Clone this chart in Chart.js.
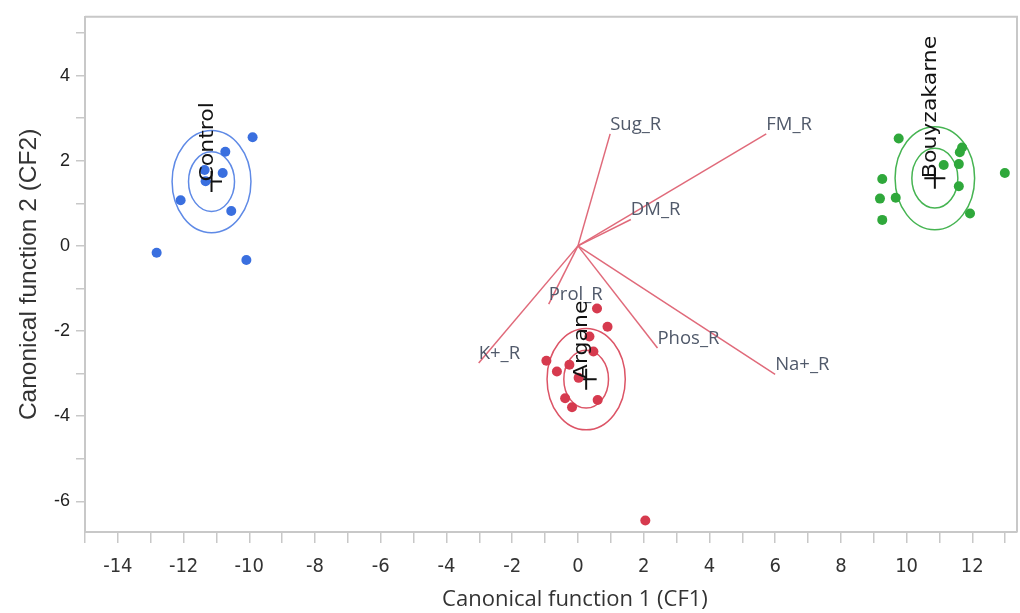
<!DOCTYPE html>
<html>
<head>
<meta charset="utf-8">
<script src="https://cdn.jsdelivr.net/npm/chart.js@4"></script>
<style>
  body { margin: 0; background: #fff; }
  canvas { display: block; }
</style>
</head>
<body>
<canvas id="cdaChart" width="1020" height="613"></canvas>
<script>
const groupNames = ['Control', 'Argane', 'Bouyzakarne'];
const groupColors = ['#3a6fdf', '#d63a4e', '#2fa83b'];
const ringColors = ['#5f8ae6', '#dc5466', '#46b452'];

const controlX = [-9.90, -10.73, -10.81, -11.36, -11.33, -12.09, -10.55, -12.82, -10.09];
const controlY = [2.55, 2.21, 1.71, 1.78, 1.52, 1.07, 0.82, -0.16, -0.33];
const arganeX = [0.58, 0.90, 0.35, 0.47, -0.96, -0.26, -0.64, 0.02, -0.39, -0.18, 0.60, 2.05];
const arganeY = [-1.47, -1.90, -2.13, -2.48, -2.70, -2.79, -2.95, -3.10, -3.58, -3.79, -3.62, -6.45];
const bouyzX = [9.76, 11.69, 11.62, 11.13, 11.59, 12.99, 9.26, 11.59, 9.19, 9.67, 11.93, 9.26];
const bouyzY = [2.52, 2.31, 2.20, 1.90, 1.92, 1.71, 1.57, 1.40, 1.11, 1.13, 0.76, 0.61];

const centerX = [-11.15, 0.25, 10.86];
const centerY = [1.51, -3.13, 1.59];
const innerRadius = [0.70, 0.68, 0.70];
const outerRadius = [1.20, 1.19, 1.21];

const rayNames = ['Sug_R', 'FM_R', 'DM_R', 'Prol_R', 'K+_R', 'Phos_R', 'Na+_R'];
const rayX = [0.98, 5.73, 1.61, -0.89, -3.02, 2.42, 6.00];
const rayY = [2.63, 2.63, 0.62, -1.37, -2.75, -2.40, -3.02];

const xTitle = 'Canonical function 1 (CF1)';
const axisGray = '#c8c8c8';

function toPoints(xs, ys) {
    return xs.map((v, i) => ({ x: v, y: ys[i] }));
}

const groupPoints = [toPoints(controlX, controlY), toPoints(arganeX, arganeY), toPoints(bouyzX, bouyzY)];

const datasets = [];
groupPoints.forEach((pts, i) => {
    datasets.push({
        label: groupNames[i],
        data: pts,
        backgroundColor: groupColors[i],
        borderWidth: 0,
        pointRadius: 5
    });
});
datasets.push({
    label: 'Means',
    data: toPoints(centerX, centerY),
    pointStyle: 'cross',
    pointRadius: 10.5,
    borderColor: '#111',
    borderWidth: 2
});
rayNames.forEach((name, i) => {
    datasets.push({
        label: name,
        data: [{ x: 0, y: 0 }, { x: rayX[i], y: rayY[i] }],
        showLine: true,
        borderColor: '#e06a7a',
        borderWidth: 1.5,
        pointRadius: 0
    });
});

// 50% / 95% circles round the group means
const ringPlugin = {
    id: 'rings',
    beforeDatasetsDraw(chart) {
        const { ctx, scales: { x, y } } = chart;
        ctx.save();
        ctx.lineWidth = 1.5;
        centerX.forEach((cx, i) => {
            const px = x.getPixelForValue(cx);
            const py = y.getPixelForValue(centerY[i]);
            [innerRadius[i], outerRadius[i]].forEach(r => {
                const rx = x.getPixelForValue(cx + r) - px;
                const ry = py - y.getPixelForValue(centerY[i] + r);
                ctx.beginPath();
                ctx.ellipse(px, py, rx, ry, 0, 0, Math.PI * 2);
                ctx.strokeStyle = ringColors[i];
                ctx.stroke();
            });
        });
        ctx.restore();
    }
};

const labelPlugin = {
    id: 'labels',
    afterDatasetsDraw(chart) {
        const { ctx, scales: { x, y } } = chart;
        ctx.save();
        ctx.font = '18.5px "Open Sans"';
        ctx.fillStyle = '#50596a';
        ctx.textAlign = 'left';
        ctx.textBaseline = 'alphabetic';
        rayNames.forEach((name, i) => {
            ctx.fillText(name, x.getPixelForValue(rayX[i]), y.getPixelForValue(rayY[i]) - 4);
        });
        ctx.font = '22px "DejaVu Sans"';
        ctx.fillStyle = '#111';
        groupNames.forEach((name, i) => {
            ctx.save();
            ctx.translate(x.getPixelForValue(centerX[i]) + 1, y.getPixelForValue(centerY[i]));
            ctx.rotate(-Math.PI / 2);
            ctx.scale(1, 0.88);
            ctx.fillText(name, 0, 0);
            ctx.restore();
        });
        ctx.restore();
    }
};

const framePlugin = {
    id: 'frame',
    afterDraw(chart) {
        const { ctx, chartArea: a, scales: { x } } = chart;
        ctx.save();
        ctx.strokeStyle = axisGray;
        ctx.lineWidth = 2;
        ctx.beginPath();
        ctx.moveTo(a.left, a.top);
        ctx.lineTo(a.right, a.top);
        ctx.lineTo(a.right, a.bottom);
        ctx.stroke();
        // x axis title, centred under zero as in the original export
        ctx.font = '22px "Open Sans"';
        ctx.fillStyle = '#333';
        ctx.textAlign = 'center';
        ctx.textBaseline = 'middle';
        ctx.fillText(xTitle, x.getPixelForValue(0) - 3, 600);
        ctx.restore();
    }
};

new Chart(document.getElementById('cdaChart'), {
    type: 'scatter',
    data: { datasets: datasets },
    options: {
        responsive: false,
        animation: false,
        layout: { autoPadding: false, padding: { top: 14, right: 3, left: 0, bottom: 0 } },
        plugins: { legend: { display: false }, tooltip: { enabled: false } },
        scales: {
            x: {
                type: 'linear',
                min: -15,
                max: 13.36,
                afterFit: s => { s.height = 81; },
                border: { color: axisGray, width: 2 },
                grid: { drawOnChartArea: false, tickLength: 11, color: axisGray, lineWidth: 1.5 },
                ticks: {
                    stepSize: 1,
                    includeBounds: false,
                    autoSkip: false,
                    maxRotation: 0,
                    padding: 12,
                    color: '#333',
                    font: { family: '"Liberation Sans Narrow", "DejaVu Sans Condensed", sans-serif', size: 20 },
                    callback: v => (v % 2 === 0 ? v : '')
                }
            },
            y: {
                type: 'linear',
                min: -6.72,
                max: 5.38,
                afterFit: s => { s.width = 85; },
                border: { color: axisGray, width: 2 },
                grid: { drawOnChartArea: false, tickLength: 9, color: axisGray, lineWidth: 1.5 },
                ticks: {
                    stepSize: 1,
                    includeBounds: false,
                    autoSkip: false,
                    padding: 6,
                    color: '#222',
                    font: { family: '"Liberation Sans"', size: 18 },
                    callback: v => (v % 2 === 0 ? v : '')
                },
                title: {
                    display: true,
                    text: 'Canonical function 2 (CF2)',
                    color: '#333',
                    font: { family: '"Liberation Sans"', size: 24.5 },
                    padding: { top: 15 }
                }
            }
        }
    },
    plugins: [ringPlugin, labelPlugin, framePlugin]
});
</script>
</body>
</html>
